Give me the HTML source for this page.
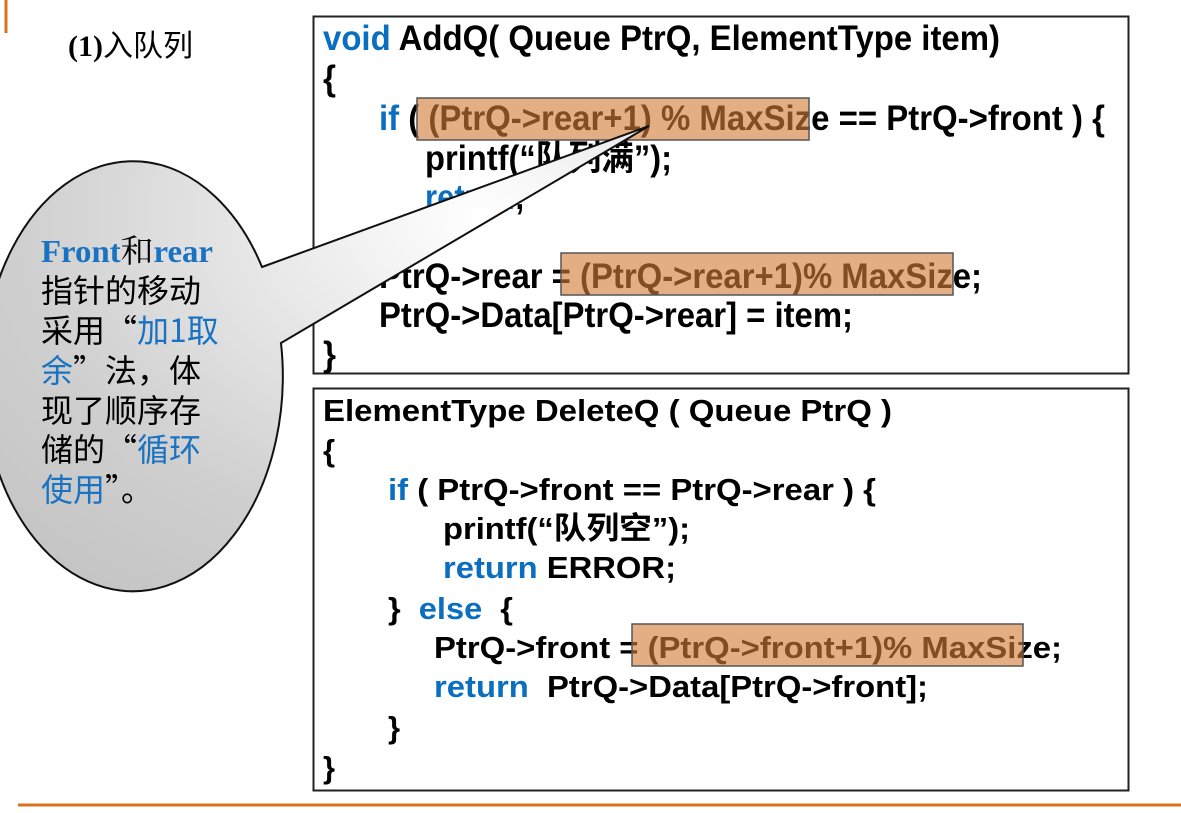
<!DOCTYPE html>
<html><head><meta charset="utf-8"><style>html,body{margin:0;padding:0;background:#fff;overflow:hidden}</style></head>
<body>
<svg width="1181" height="808" viewBox="0 0 1181 808" xmlns="http://www.w3.org/2000/svg">
<defs>
<radialGradient id="g" cx="0.75" cy="0.2" r="1">
<stop offset="0" stop-color="#ffffff"/><stop offset="0.7" stop-color="#cfcfcf"/><stop offset="1" stop-color="#c4c4c4"/>
</radialGradient>
</defs>
<line x1="6" y1="0" x2="6" y2="33" stroke="#d8731b" stroke-width="3"/>
<line x1="18" y1="805" x2="1181" y2="805" stroke="#d8731b" stroke-width="3"/>
<text x="68" y="56" font-family="Liberation Serif, 'Noto Serif CJK SC', serif" font-size="30" font-weight="bold">(1)<tspan font-weight="normal" font-family="'Noto Sans CJK SC', sans-serif">入队列</tspan></text>

<g font-family="Liberation Sans, 'Noto Sans CJK SC', sans-serif" font-weight="bold">
<rect x="313.5" y="16.5" width="815" height="357" fill="#fff" stroke="#222" stroke-width="2"/>
<g font-size="35">
<text x="323" y="50" textLength="677" lengthAdjust="spacingAndGlyphs"><tspan fill="#0b6fc0">void</tspan> AddQ( Queue PtrQ, ElementType item)</text>
<text x="323" y="90" textLength="13" lengthAdjust="spacingAndGlyphs">{</text>
<text x="379" y="130" textLength="726" lengthAdjust="spacingAndGlyphs"><tspan fill="#0b6fc0">if</tspan> ( (PtrQ-&gt;rear+1) % MaxSize == PtrQ-&gt;front ) {</text>
<text x="425" y="170" textLength="247" lengthAdjust="spacingAndGlyphs">printf(“队列满”);</text>
<text x="425" y="209" textLength="100" lengthAdjust="spacingAndGlyphs" fill="#0b6fc0">return<tspan fill="#000">;</tspan></text>
<text x="379" y="249" textLength="13" lengthAdjust="spacingAndGlyphs">}</text>
<text x="379" y="288" textLength="603" lengthAdjust="spacingAndGlyphs">PtrQ-&gt;rear = (PtrQ-&gt;rear+1)% MaxSize;</text>
<text x="379" y="327" textLength="474" lengthAdjust="spacingAndGlyphs">PtrQ-&gt;Data[PtrQ-&gt;rear] = item;</text>
<text x="323" y="366" textLength="13" lengthAdjust="spacingAndGlyphs">}</text>
</g>
<rect x="417" y="98" width="392" height="42" fill="rgb(210,125,55)" fill-opacity="0.62" stroke="#555" stroke-width="1.5"/>
<rect x="561" y="253" width="392" height="42" fill="rgb(210,125,55)" fill-opacity="0.62" stroke="#555" stroke-width="1.5"/>

<rect x="313.5" y="388.5" width="815" height="402" fill="#fff" stroke="#222" stroke-width="2"/>
<g font-size="31">
<text x="323" y="421" textLength="569" lengthAdjust="spacingAndGlyphs">ElementType DeleteQ ( Queue PtrQ )</text>
<text x="323" y="461">{</text>
<text x="388" y="500" textLength="488" lengthAdjust="spacingAndGlyphs"><tspan fill="#0b6fc0">if</tspan> ( PtrQ-&gt;front == PtrQ-&gt;rear ) {</text>
<text x="443" y="539" textLength="247" lengthAdjust="spacingAndGlyphs">printf(“队列空”);</text>
<text x="443" y="578" textLength="233" lengthAdjust="spacingAndGlyphs"><tspan fill="#0b6fc0">return</tspan> ERROR;</text>
<text x="388" y="619" textLength="125" lengthAdjust="spacingAndGlyphs" xml:space="preserve">}  <tspan fill="#0b6fc0">else</tspan>  {</text>
<text x="434" y="658" textLength="628" lengthAdjust="spacingAndGlyphs">PtrQ-&gt;front = (PtrQ-&gt;front+1)% MaxSize;</text>
<text x="434" y="697" textLength="494" lengthAdjust="spacingAndGlyphs" xml:space="preserve"><tspan fill="#0b6fc0">return</tspan>  PtrQ-&gt;Data[PtrQ-&gt;front];</text>
<text x="388" y="738">}</text>
<text x="323" y="778">}</text>
</g>
<rect x="632" y="624" width="391" height="42" fill="rgb(210,125,55)" fill-opacity="0.62" stroke="#555" stroke-width="1.5"/>
</g>

<path d="M262,267 L649,126 L281,343 A150,215 0 1 1 262,267 Z" fill="url(#g)" stroke="#111" stroke-width="2"/>
<g font-size="32" font-family="'Noto Sans CJK SC', sans-serif">
<text x="41" y="262" textLength="172" lengthAdjust="spacingAndGlyphs" font-family="Liberation Serif, 'Noto Serif CJK SC', serif"><tspan fill="#1a72c2" font-weight="bold">Front</tspan>和<tspan fill="#1a72c2" font-weight="bold">rear</tspan></text>
<text x="41" y="302">指针的移动</text>
<text x="41" y="342">采用“<tspan fill="#1a72c2">加1取</tspan></text>
<text x="41" y="382"><tspan fill="#1a72c2">余</tspan>”法，体</text>
<text x="41" y="422">现了顺序存</text>
<text x="41" y="461">储的“<tspan fill="#1a72c2">循环</tspan></text>
<text x="41" y="501"><tspan fill="#1a72c2">使用</tspan>”。</text>
</g>
</svg>
</body></html>
